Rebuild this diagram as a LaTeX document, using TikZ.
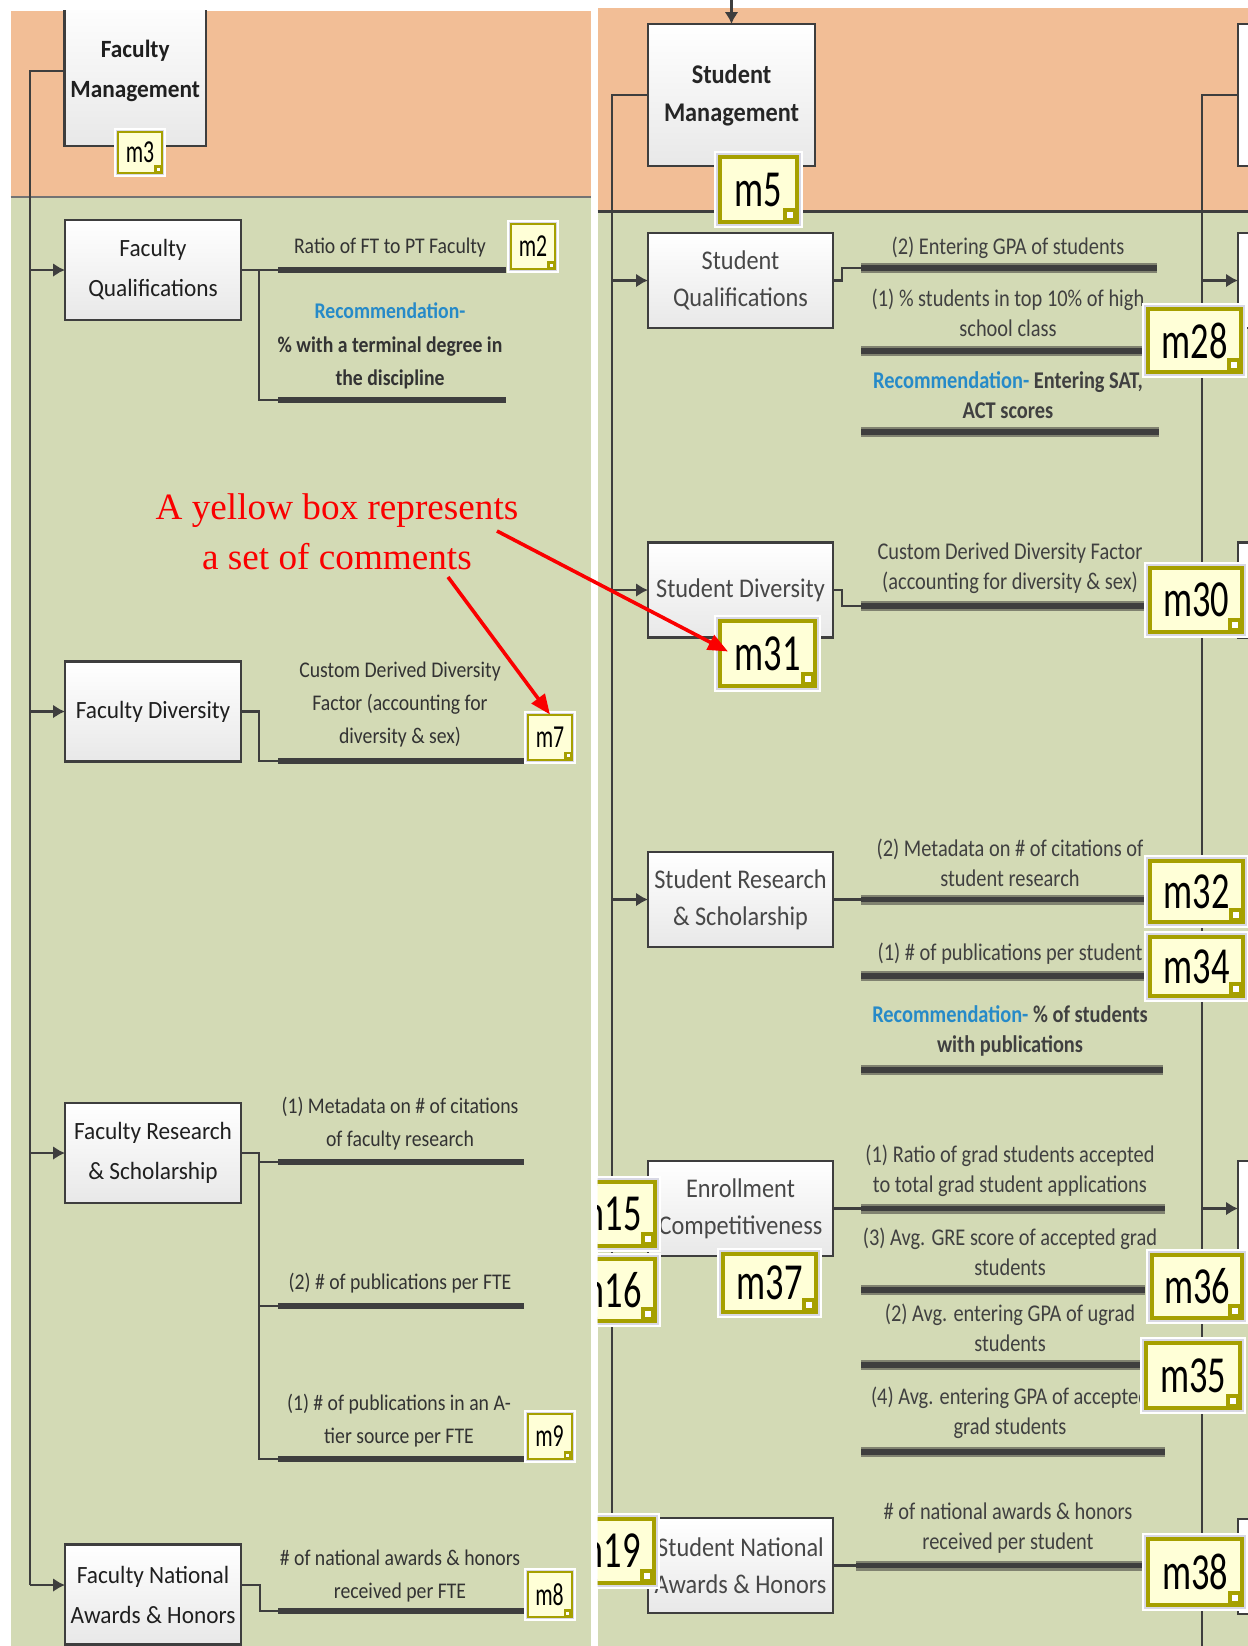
\documentclass[tikz,border=0pt]{standalone}
\usepackage{fontspec}
\setmainfont{Carlito}
\newfontfamily\labLfont[FakeStretch=0.88]{Carlito}
\newfontfamily\boxLfont[FakeStretch=0.94]{Carlito}
\newfontfamily\labRfont[FakeStretch=0.85]{Carlito}
\newfontfamily\boxRfont[FakeStretch=0.9]{Carlito}
\newfontfamily\mLfont[FakeStretch=0.68]{Carlito}
\newfontfamily\mRfont[FakeStretch=0.7]{Carlito}
\newfontfamily\annfont{Liberation Serif}
\usetikzlibrary{arrows.meta,calc}
\definecolor{peach}{RGB}{242,190,150}
\definecolor{sage}{RGB}{211,218,181}
\definecolor{dk}{RGB}{62,62,62}
\definecolor{olivec}{RGB}{166,160,0}
\definecolor{cyel}{RGB}{255,255,215}
\definecolor{lav}{RGB}{216,216,228}
\definecolor{recblue}{RGB}{38,138,200}
\definecolor{barlt}{RGB}{128,130,112}
\definecolor{annred}{RGB}{250,0,0}
\newcommand\mcorner[3]{%
  \fill[olivec] (#1.south east) rectangle ++(-#2,-#2);
  \fill[white] ($(#1.south east)+(-#2/2-#3/2,-#2/2-#3/2)$) rectangle ++(#3,#3);
}
\tikzset{
  conn/.style={draw=dk, line width=1.2pt},
  arr/.style={conn, -{Latex[length=6pt,width=7pt]}},
  trunk/.style={draw=dk, line width=1.3pt},
  barL/.style={draw=dk, line width=3.2pt},
  barR/.style={preaction={draw=barlt, line width=5pt}, draw=dk, line width=2.8pt},
  bxL/.style={draw=dk, line width=1.4pt, top color=white, bottom color=black!9, inner sep=0pt, outer sep=0pt, align=center, text=black!88, minimum width=88pt, minimum height=50pt, font=\boxLfont\fontsize{12.4}{20}\selectfont},
  bxR/.style={draw=dk, line width=1.4pt, top color=white, bottom color=black!9, inner sep=0pt, outer sep=0pt, align=center, text=black!72, minimum width=92.5pt, minimum height=47.5pt, font=\boxRfont\fontsize{13.5}{18.5}\selectfont},
  labL/.style={inner sep=0pt, align=center, text=black!80, font=\labLfont\fontsize{11.2}{16.5}\selectfont},
  labLb/.style={labL, font=\labLfont\bfseries\fontsize{11.2}{16.75}\selectfont},
  labR/.style={inner sep=0pt, align=center, text=black!75, font=\labRfont\fontsize{12}{15}\selectfont},
  labRb/.style={labR, font=\labRfont\bfseries\fontsize{12}{15}\selectfont},
  cbL/.style={preaction={draw=white, line width=4pt}, preaction={draw=lav, line width=2pt}, draw=olivec, line width=1pt, fill=cyel, inner sep=0pt, outer sep=0pt, text=black, font=\mLfont\fontsize{16}{16}\selectfont},
  cbR/.style={preaction={draw=white, line width=6.25pt}, preaction={draw=lav, line width=3.75pt}, draw=olivec, line width=1.75pt, fill=cyel, inner sep=0pt, outer sep=0pt, text=black, font=\mRfont\fontsize{26}{26}\selectfont},
  partbox/.style={draw=dk, line width=1.4pt, fill=white, minimum width=92.5pt, minimum height=47.5pt, anchor=west, outer sep=0pt},
  annarr/.style={draw=annred, line width=1.8pt, -{Triangle[length=10pt,width=8pt]}},
}
\begin{document}
\begin{tikzpicture}[x=0.5pt,y=-0.5pt]
\useasboundingbox (0,0) rectangle (1248,1646);
\clip (0,0) rectangle (1248,1646);
\fill[white] (0,0) rectangle (1248,1646);
% ---------- panels ----------
\fill[peach] (10.5,10.5) rectangle (591,197);
\fill[sage] (10.5,197) rectangle (591,1646);
\draw[black!55, line width=0.9pt] (10.5,197) -- (591,197);
\fill[peach] (597.5,7.5) rectangle (1248,211);
\fill[sage] (597.5,211) rectangle (1248,1646);
\draw[dk, line width=1.5pt] (597.5,211) -- (1248,211);

% ================= LEFT PANEL =================
\begin{scope}
\clip (10.5,10.5) rectangle (591,1646);
\node[bxL, font=\boxLfont\bfseries\fontsize{12.4}{20}\selectfont, minimum width=70.75pt, minimum height=75pt] (FM) at (135.25,71) {Faculty\\Management};
\end{scope}
\node[bxL] (FQ) at (153,270) {Faculty\\Qualifications};
\node[bxL] (FD) at (153,711.5) {Faculty Diversity};
\node[bxL] (FRS) at (153,1153) {Faculty Research\\\& Scholarship};
\node[bxL] (FNA) at (153,1594.5) {Faculty National\\Awards \& Honors};

\coordinate (tL) at (30,1585);
\draw[trunk] (FM.west) -| (tL);
\draw[arr] (tL |- FQ.west) -- (FQ.west);
\draw[arr] (tL |- FD.west) -- (FD.west);
\draw[arr] (tL |- FRS.west) -- (FRS.west);
\draw[arr] (tL) -- (tL -| FNA.west);

% bar starts
\coordinate (q1) at (278,270);
\coordinate (q2) at (278,400);
\coordinate (d1) at (278,761);
\coordinate (r1) at (278,1162);
\coordinate (r2) at (278,1306);
\coordinate (r3) at (278,1459);
\coordinate (n1) at (278,1611);

\draw[conn] (FQ.east) -- (q1);
\draw[conn] ($(FQ.east)+(18,0)$) |- (q2);
\draw[conn] (FD.east) -- ++(18,0) |- (d1);
\draw[conn] (FRS.east) -- ++(18,0) |- (r1);
\draw[conn] ($(FRS.east)+(18,0)$) |- (r2);
\draw[conn] ($(FRS.east)+(18,0)$) |- (r3);
\draw[conn] ($(FNA.east)+(0,-9.5)$) -- ++(19,0) |- (n1);

\draw[barL] (q1) -- (506,270);
\draw[barL] (q2) -- (506,400);
\draw[barL] (d1) -- (524,761);
\draw[barL] (r1) -- (524,1162);
\draw[barL] (r2) -- (524,1306);
\draw[barL] (r3) -- (524,1459);
\draw[barL] (n1) -- (524,1611);

\node[labL] (lq1) at (390,248) {Ratio of FT to PT Faculty};
\node[labLb] (lq2) at (390,346) {\textcolor{recblue}{Recommendation-}\\\% with a terminal degree in\\the discipline};
\node[labL] (ld1) at (400,705) {Custom Derived Diversity\\Factor (accounting for\\diversity \& sex)};
\node[labL] (lr1) at (400,1124) {(1) Metadata on \# of citations\\of faculty research};
\node[labL] (lr2) at (400,1283) {(2) \# of publications per FTE};
\node[labL] (lr3) at (399,1421) {(1) \# of publications in an A-\\tier source per FTE};
\node[labL] (ln1) at (400,1576) {\# of national awards \& honors\\received per FTE};

\node[cbL, minimum width=22pt, minimum height=20.5pt] (m3) at (140,152.5) {m3};
\node[cbL, minimum width=22pt, minimum height=22.5pt] (m2) at (533,246.5) {m2};
\node[cbL, minimum width=22pt, minimum height=22.5pt] (m7) at (550,737) {m7};
\node[cbL, minimum width=22pt, minimum height=22.5pt] (m9) at (549.5,1436.5) {m9};
\node[cbL, minimum width=22pt, minimum height=22.5pt] (m8) at (549.5,1594.5) {m8};
\foreach \n in {m3,m2,m7,m9,m8} {\mcorner{\n}{8}{3}}

% ================= RIGHT PANEL =================
\node[bxR, font=\boxRfont\bfseries\fontsize{13.5}{19}\selectfont, text=black!85, minimum width=83.5pt, minimum height=71pt] (SM) at (731.5,95) {Student\\Management};
\node[bxR] (SQ) at (740.5,280.5) {Student\\Qualifications};
\node[bxR] (SD) at (740.5,590) {Student Diversity};
\node[bxR] (SRS) at (740.5,899.5) {Student Research\\\& Scholarship};
\node[bxR] (EC) at (740.5,1208.5) {Enrollment\\Competitiveness};
\node[bxR] (SNA) at (740.5,1565.5) {Student National\\Awards \& Honors};

\coordinate (smtop) at (731.5,0);
\draw[arr] (smtop) -- (SM.north);

\coordinate (tR) at (612,1565.5);
\draw[trunk] (SM.west) -| (tR);
\draw[arr] (tR |- SQ.west) -- (SQ.west);
\draw[arr] (tR |- SD.west) -- (SD.west);
\draw[arr] (tR |- SRS.west) -- (SRS.west);
\draw[arr] (tR |- EC.west) -- (EC.west);
\draw[arr] (tR) -- (SNA.west);

% partial third column
\node[partbox, minimum width=83.5pt, minimum height=71pt] (RC1) at (1238,95) {};
\node[partbox] (RC2) at (1238,280.5) {};
\node[partbox] (RC3) at (1238,590) {};
\node[partbox] (RC4) at (1238,1208.5) {};
\node[partbox] (RC5) at (1238,1566.5) {};
\coordinate (tC) at (1202,1660);
\draw[trunk] (RC1.west) -| (tC);
\draw[arr] (tC |- RC2.west) -- (RC2.west);
\draw[arr] (tC |- RC3.west) -- (RC3.west);
\draw[arr] (tC |- RC4.west) -- (RC4.west);
\draw[arr] (tC |- RC5.west) -- (RC5.west);

% bars
\coordinate (sq1) at (861,268);
\coordinate (sq2) at (861,351);
\coordinate (sq3) at (861,432);
\coordinate (sd1) at (861,606);
\coordinate (sr1) at (861,899.5);
\coordinate (sr2) at (861,976);
\coordinate (sr3) at (861,1070);
\coordinate (ec1) at (861,1208.5);
\coordinate (ec2) at (861,1290);
\coordinate (ec3) at (861,1365);
\coordinate (ec4) at (861,1452);
\coordinate (sn1) at (856,1565.5);

\draw[conn] (SQ.east) -- ++(9,0) |- (sq1);
\draw[conn] (SD.east) -- ++(9,0) |- (sd1);
\draw[conn] (SRS.east) -- (sr1);
\draw[conn] (EC.east) -- (ec1);
\draw[conn] (SNA.east) -- (sn1);

\draw[barR] (sq1) -- (1157,268);
\draw[barR] (sq2) -- (1145,351);
\draw[barR] (sq3) -- (1159,432);
\draw[barR] (sd1) -- (1145,606);
\draw[barR] (sr1) -- (1145,899.5);
\draw[barR] (sr2) -- (1145,976);
\draw[barR] (sr3) -- (1163,1070);
\draw[barR] (ec1) -- (1165,1208.5);
\draw[barR] (ec2) -- (1145,1290);
\draw[barR] (ec3) -- (1145,1365);
\draw[barR] (ec4) -- (1165,1452);
\draw[barR] (sn1) -- (1145,1565.5);

\node[labR] (l1) at (1008,248) {(2) Entering GPA of students};
\node[labR] (l2) at (1008,312.5) {(1) \% students in top 10\% of high\\school class};
\node[labRb] (l3) at (1008,395) {\textcolor{recblue}{Recommendation-} Entering SAT,\\ACT scores};
\node[labR] (l4) at (1010,568) {Custom Derived Diversity Factor\\(accounting for diversity \& sex)};
\node[labR] (l5) at (1010,863) {(2) Metadata on \# of citations of\\student research};
\node[labR] (l6) at (1010,954) {(1) \# of publications per student};
\node[labRb] (l7) at (1010,1031) {\textcolor{recblue}{Recommendation-} \% of students\\with publications};
\node[labR] (l8) at (1010,1171) {(1) Ratio of grad students accepted\\to total grad student applications};
\node[labR] (l9) at (1010,1252) {(3) Avg. GRE score of accepted grad\\students};
\node[labR] (l10) at (1010,1328) {(2) Avg. entering GPA of ugrad\\students};
\node[labR] (l11) at (1010,1413) {(4) Avg. entering GPA of accepted\\grad students};
\node[labR] (l12) at (1008,1528.5) {\# of national awards \& honors\\received per student};

% comment boxes right
\node[cbR, minimum width=38.5pt, minimum height=32.5pt] (m5) at (758.5,189.5) {m5};
\node[cbR, minimum width=46.5pt, minimum height=31.5pt] (m28) at (1194.5,340.5) {m28};
\node[cbR, minimum width=47.5pt, minimum height=32.5pt] (m31) at (767.5,653.5) {m31};
\node[cbR, minimum width=46pt, minimum height=32pt] (m30) at (1196,600) {m30};
\node[cbR, minimum width=46.5pt, minimum height=30.5pt] (m32) at (1196.5,891.5) {m32};
\node[cbR, minimum width=46.5pt, minimum height=29.5pt] (m34) at (1196.5,966.5) {m34};
\node[cbR, minimum width=46.5pt, minimum height=29pt] (m37) at (769.5,1283) {m37};
\node[cbR, minimum width=45pt, minimum height=31.5pt] (m36) at (1197,1286.5) {m36};
\node[cbR, minimum width=47pt, minimum height=32.5pt] (m35) at (1193,1375.5) {m35};
\node[cbR, minimum width=47pt, minimum height=33pt] (m38) at (1195,1572) {m38};
\foreach \n in {m5,m28,m31,m30,m32,m34,m37,m36,m35,m38} {\mcorner{\n}{14}{6}}
\begin{scope}
\clip (597.5,0) rectangle (1248,1646);
\node[cbR, minimum width=46.5pt, minimum height=32pt] (m15) at (608.5,1214) {m15};
\node[cbR, minimum width=46.5pt, minimum height=31pt] (m16) at (608.5,1290) {m16};
\node[cbR, minimum width=46.5pt, minimum height=32pt] (m19) at (607.5,1551) {m19};
\foreach \n in {m15,m16,m19} {\mcorner{\n}{14}{6}}
\end{scope}

% ================= ANNOTATION =================
\node[font=\annfont\fontsize{18.6}{25}\selectfont, text=annred, align=center, inner sep=0pt] (ann) at (337,532) {A yellow box represents\\a set of comments};
\coordinate (a1) at (497,531);
\coordinate (a2) at (448,577);
\draw[annarr] (a1) -- ($(m31.west)+(8,-2)$);
\draw[annarr] (a2) -- (m7.north);
\end{tikzpicture}
\end{document}
